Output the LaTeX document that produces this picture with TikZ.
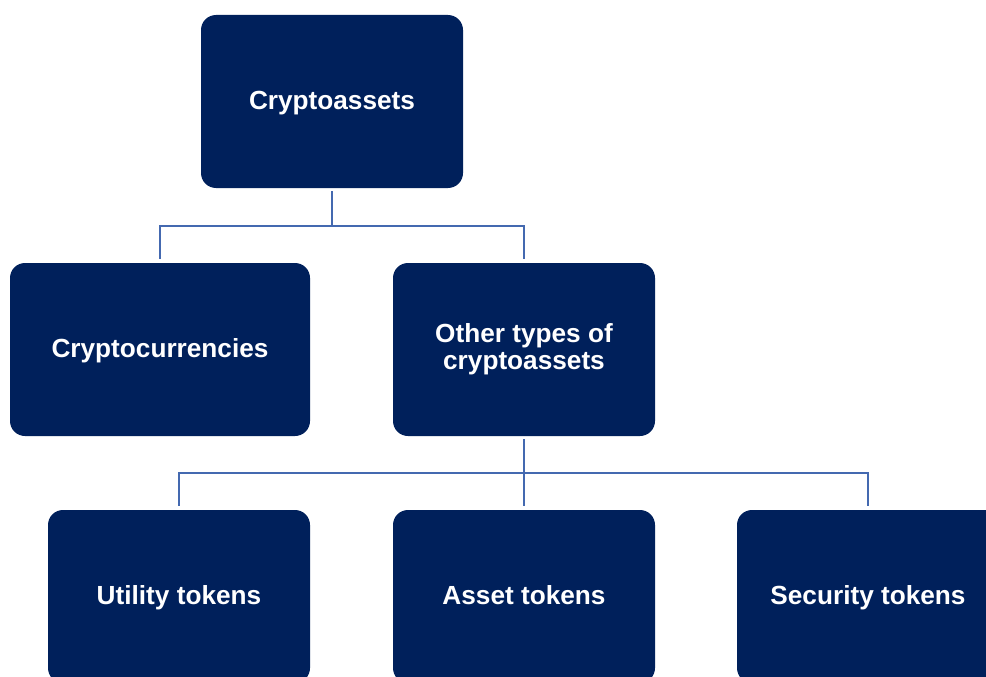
\documentclass[tikz,border=0pt]{standalone}
\usepackage{fontspec}
\setmainfont{Liberation Sans}
\definecolor{navy}{RGB}{0,32,91}
\definecolor{linkblue}{RGB}{68,105,176}
\begin{document}
\begin{tikzpicture}[x=1pt,y=-1pt,
  basebox/.style={fill=navy, rounded corners=15pt, inner sep=0pt, text=white,
    font=\fontsize{26.2}{27}\selectfont\bfseries, align=center,
    minimum width=262pt, minimum height=173pt},
  box/.style={basebox, text height=19pt, text depth=3pt},
  conn/.style={draw=linkblue, line width=2.8pt}]
\useasboundingbox (0,0) rectangle (986,677);
\clip (0,0) rectangle (986,677);
\node[box] (ca) at (332,101.5) {Cryptoassets};
\node[box, minimum width=300pt] (cc) at (160,349.5) {Cryptocurrencies};
\node[basebox] (ot) at (524,349.5) {Other types of\\cryptoassets};
\node[box] (ut) at (179,596.5) {Utility tokens};
\node[box] (at) at (524,596.5) {Asset tokens};
\node[box] (st) at (868,596.5) {Security tokens};
\coordinate (j1) at (332,226);
\coordinate (j2) at (524,473);
\draw[conn, shorten <=3pt] (ca.south) -- (j1);
\draw[conn, shorten >=4pt] (j1) -| (cc.north);
\draw[conn, shorten >=4pt] (j1) -| (ot.north);
\draw[conn, shorten <=3pt] (ot.south) -- (j2);
\draw[conn, shorten >=4pt] (j2) -| (ut.north);
\draw[conn, shorten >=4pt] (j2) -- (at.north);
\draw[conn, shorten >=4pt] (j2) -| (st.north);
\end{tikzpicture}
\end{document}
